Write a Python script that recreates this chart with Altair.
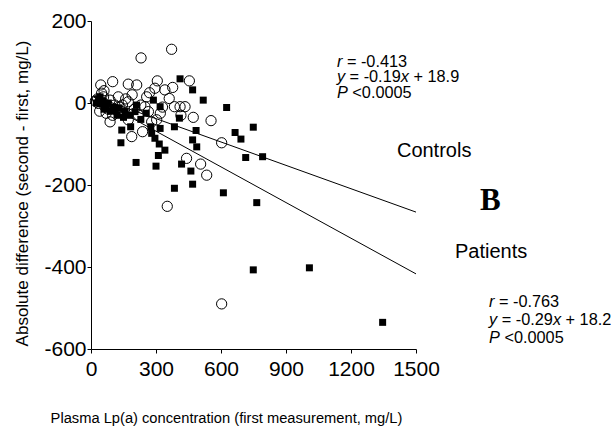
import altair as alt
import pandas as pd

# ---------------- data ----------------
ctrl_x = [45, 100, 172, 211, 306, 295, 341, 377, 454, 257, 361, 231, 372,
          385, 411, 434, 472, 554, 603, 441, 506, 534, 352, 603,
          188, 238, 88, 303, 265, 249, 172, 126, 49, 88, 65, 118, 145, 34, 58,
          172, 218, 280, 320, 200, 150, 100, 70, 30, 40, 130, 160, 110, 80,
          190, 230, 415, 330, 270, 60, 20]
ctrl_y = [44, 52, 46, 44, 54, 36, 32, 38, 54, 15, 11, 110, 131,
          -9, -9, -9, -35, -43, -97, -135, -149, -176, -252, -490,
          -82, -70, -46, -41, -21, -9, 3, 15, 24, 7, -10, -17, -5, -1, 15,
          -41, -29, -46, -25, -15, -25, -30, -25, 10, -20, -10, 10, -5, -15,
          20, -5, -30, -10, 25, 30, 5]

pat_x = [411, 469, 518, 626, 749, 665, 692, 792, 714, 485, 469, 488, 418, 461,
         469, 385, 611, 765, 408, 385, 319, 288, 319, 276, 280, 295, 315, 341,
         311, 300, 208, 142, 138, 183, 749, 1008, 1346,
         42, 57, 42, 70, 111, 130, 157, 203, 180, 90, 25, 35, 60, 100, 150,
         210, 120, 80, 230, 255]
pat_y = [59, 32, 7, -11, -59, -72, -88, -131, -133, -67, -90, -107, -149, -166,
         -198, -208, -219, -243, -37, -58, -9, 7, -62, -58, -74, -86, -100, -115,
         -128, -154, -145, -66, -97, -58, -407, -402, -535,
         15, 5, -2, -8, -17, -12, -21, -21, -30, -20, 0, 10, -15, -10, -35,
         -5, -30, 0, -40, -25]

line_x = [10, 1500]
ctrl_line_y = [17.0, -266.1]   # y = -0.19x + 18.9
pat_line_y = [15.3, -416.8]    # y = -0.29x + 18.2

x_ticks = [0, 300, 600, 900, 1200, 1500]
y_ticks = [-600, -400, -200, 0, 200]

x_title = "Plasma Lp(a) concentration (first measurement, mg/L)"
y_title = "Absolute difference (second - first, mg/L)"

# annotation blocks: (anchor x, [(baseline y, [(text, italic, space_after), ...]), ...])
ann_ctrl = (1135, [(86.6, [("r", True, 1), ("= -0.413", False, 0)]),
                   (51.2, [("y", True, 1), ("= -0.19", False, 0), ("x", True, 1), ("+ 18.9", False, 0)]),
                   (12.2, [("P", True, 1), ("<0.0005", False, 0)])])
ann_pat = (1837, [(-497.6, [("r", True, 1), ("= -0.763", False, 0)]),
                  (-541.5, [("y", True, 1), ("= -0.29", False, 0), ("x", True, 1), ("+ 18.2", False, 0)]),
                  (-585.4, [("P", True, 1), ("<0.0005", False, 0)])])
labels = [("Controls", 1412, -131.7), ("Patients", 1680, -378.0)]
panel_letter = ("B", 1795, -261.0)

# ---------------- layout ----------------
W, H = 325, 328
FONT = "Liberation Sans"
ANN_FS = 16.3
UX = 1500 / W  # data units per px

AW = {' ': .278, '=': .584, '-': .333, '.': .278, '+': .584, '<': .584,
      'r': .333, 'y': .5, 'x': .5, 'P': .667}
def tw(s):
    return sum(AW.get(c, .556) for c in s) * ANN_FS

rows = []
for ax, lines in (ann_ctrl, ann_pat):
    for by, segs in lines:
        off = 0.0
        for txt, it, sp in segs:
            rows.append({"x": ax + off * UX, "y": by, "t": txt, "it": it})
            off += tw(txt) + (tw(" ") if sp else 0.0)
ann_df = pd.DataFrame(rows)

pts = pd.DataFrame({"x": ctrl_x + pat_x, "y": ctrl_y + pat_y,
                    "g": ["Controls"] * len(ctrl_x) + ["Patients"] * len(pat_x)})
lines_df = pd.DataFrame({"x": line_x * 2, "y": ctrl_line_y + pat_line_y,
                         "g": ["Controls"] * 2 + ["Patients"] * 2})
lab_df = pd.DataFrame({"t": [l[0] for l in labels], "x": [l[1] for l in labels],
                       "y": [l[2] for l in labels]})
letter_df = pd.DataFrame({"t": [panel_letter[0]], "x": [panel_letter[1]], "y": [panel_letter[2]]})

xs = alt.Scale(domain=[0, 1500], nice=False, zero=False)
ys = alt.Scale(domain=[-600, 200], nice=False, zero=False)

X = alt.X("x:Q", scale=xs, axis=alt.Axis(
    values=x_ticks, labelExpr="'' + datum.value", title=x_title,
    titleX=135, titleY=73, titleAlign="center", titleBaseline="alphabetic",
    titleFontSize=14.7, labelPadding=5))
Y = alt.Y("y:Q", scale=ys, axis=alt.Axis(
    values=y_ticks, labelExpr="'' + datum.value", title=y_title,
    titleX=-64, titleY=172, titleAngle=270, titleAlign="center",
    titleBaseline="alphabetic", titleFontSize=17, labelPadding=1))

base = alt.Chart(pts)
circles = base.transform_filter("datum.g == 'Controls'").mark_point(
    shape="circle", filled=False, color="black", size=105, strokeWidth=1, opacity=1
).encode(x=X, y=Y)
squares = base.transform_filter("datum.g == 'Patients'").mark_square(
    color="black", size=49, opacity=1
).encode(x=X, y=Y)
reg = alt.Chart(lines_df).mark_line(color="black", strokeWidth=1).encode(
    x=X, y=Y, detail="g:N")

ann_it = alt.Chart(ann_df).transform_filter("datum.it").mark_text(
    align="left", baseline="alphabetic", font=FONT, fontSize=ANN_FS,
    fontStyle="italic", color="black").encode(x=X, y=Y, text="t:N")
ann_nm = alt.Chart(ann_df).transform_filter("!datum.it").mark_text(
    align="left", baseline="alphabetic", font=FONT, fontSize=ANN_FS,
    color="black").encode(x=X, y=Y, text="t:N")
labs = alt.Chart(lab_df).mark_text(
    align="left", baseline="alphabetic", font=FONT, fontSize=20,
    color="black").encode(x=X, y=Y, text="t:N")
letter = alt.Chart(letter_df).mark_text(
    align="left", baseline="alphabetic", font="Liberation Serif", fontSize=31,
    fontWeight="bold", color="black").encode(x=X, y=Y, text="t:N")

chart = alt.layer(reg, circles, squares, ann_it, ann_nm, labs, letter).properties(
    width=W, height=H,
    padding={"left": 91, "top": 21, "right": 199, "bottom": 80},
    autosize=alt.AutoSizeParams(type="none"),
    background="white",
).configure_view(stroke=None).configure_axis(
    grid=False, domainColor="black", tickColor="black", tickSize=4,
    labelFont=FONT, labelFontSize=21, labelColor="black",
    titleFont=FONT, titleFontWeight="normal", titleColor="black",
    labelOverlap=False, labelFlush=False
)

chart.save("out.html", embed_options={"renderer": "svg", "actions": False})
